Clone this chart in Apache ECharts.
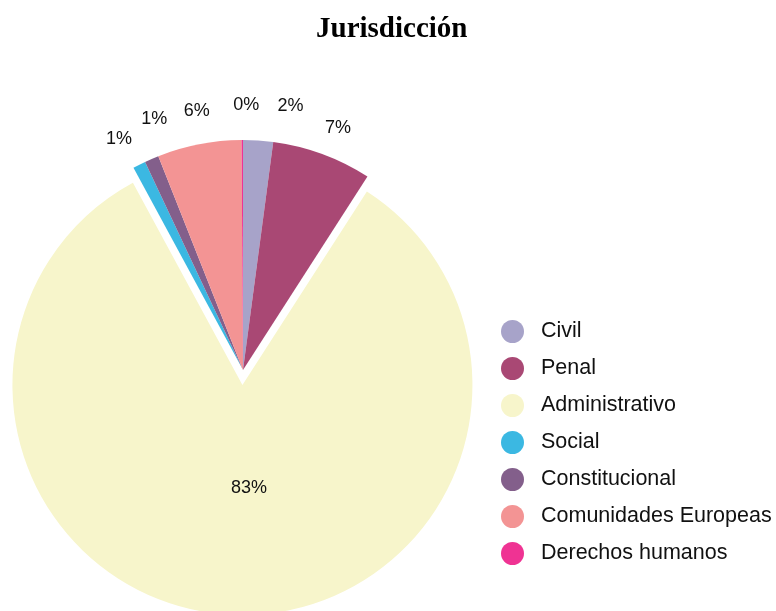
<!DOCTYPE html>
<html>
<head>
<meta charset="utf-8">
<title>Jurisdicción</title>
<script src="https://cdn.jsdelivr.net/npm/echarts@6/dist/echarts.min.js"></script>
<style>
  html, body { margin: 0; padding: 0; background: #fff; }
  #chart { width: 776px; height: 611px; }
</style>
</head>
<body>
<div id="chart"></div>
<script>
// datos
var categories = ['Civil', 'Penal', 'Administrativo', 'Social', 'Constitucional', 'Comunidades Europeas', 'Derechos humanos'];
var values = [21, 70, 830, 9, 10, 59, 1];
var colors = ['#a7a3c9', '#a94874', '#f7f5cb', '#3bb8e2', '#835f8b', '#f39494', '#ef3393'];
var highlighted = 'Administrativo';

// pequeños ajustes de etiquetas que se solapaban en el original
var labelNudge = {
    'Civil': [30, -1],
    'Penal': [4, 6],
    'Administrativo': [11, -15],
    'Social': [-5, 5],
    'Constitucional': [16, -9],
    'Comunidades Europeas': [4, 0],
    'Derechos humanos': [4, -1]
};

var chart = echarts.init(document.getElementById('chart'));

var pieData = categories.map(function (name, i) {
    var item = { name: name, value: values[i], itemStyle: { color: colors[i] } };
    if (name === highlighted) {
        item.selected = true;
        item.label = { position: 'inside' };
    }
    return item;
});

var option = {
    backgroundColor: '#fff',
    animation: false,
    title: {
        text: 'Jurisdicción',
        left: 311,
        top: 10,
        textStyle: {
            fontFamily: 'Liberation Serif',
            fontWeight: 'bold',
            fontSize: 29,
            color: '#000'
        }
    },
    legend: {
        orient: 'vertical',
        left: 496,
        top: 315,
        icon: 'circle',
        itemWidth: 23,
        itemHeight: 23,
        itemGap: 14,
        selectedMode: false,
        data: categories,
        textStyle: {
            fontFamily: 'Liberation Sans',
            fontSize: 21.5,
            color: '#111',
            padding: [0, 0, 0, 12]
        }
    },
    series: [{
        type: 'pie',
        center: [243, 370],
        radius: 230,
        startAngle: 90,
        clockwise: true,
        selectedMode: 'single',
        selectedOffset: 15,
        avoidLabelOverlap: false,
        emphasis: { disabled: true },
        label: {
            show: true,
            position: 'outside',
            fontFamily: 'Liberation Sans',
            fontSize: 18,
            color: '#111',
            distanceToLabelLine: 0,
            formatter: function (p) { return Math.round(p.percent) + '%'; }
        },
        labelLine: { show: false, length: 34, length2: 0 },
        labelLayout: function (params) {
            var n = labelNudge[categories[params.dataIndex]] || [0, 0];
            return { align: 'center', hideOverlap: false, dx: n[0], dy: n[1] };
        },
        data: pieData
    }]
};

chart.setOption(option);
</script>
</body>
</html>
